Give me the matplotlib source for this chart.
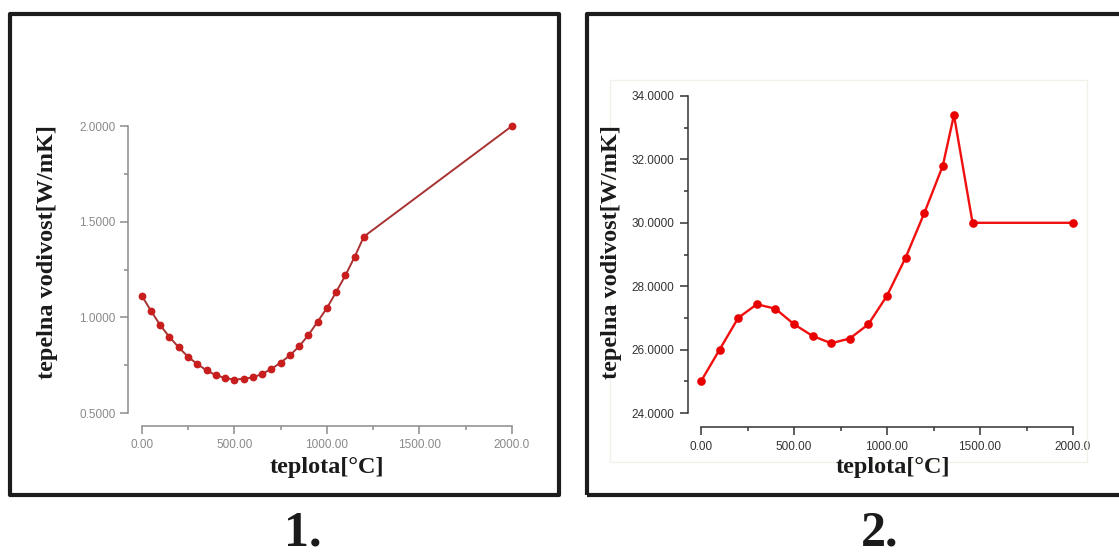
import matplotlib
matplotlib.use("Agg")
import matplotlib.pyplot as plt
from matplotlib.patches import Rectangle

# Thermal conductivity vs. temperature, material 1
temp_1 = [0, 50, 100, 150, 200, 250, 300, 350, 400, 450, 500, 550, 600,
          650, 700, 750, 800, 850, 900, 950, 1000, 1050, 1100, 1150, 1200, 2000]
cond_1 = [1.114, 1.034, 0.959, 0.897, 0.843, 0.794, 0.756, 0.723, 0.698,
          0.683, 0.674, 0.679, 0.686, 0.704, 0.730, 0.763, 0.801, 0.848,
          0.907, 0.977, 1.048, 1.132, 1.219, 1.316, 1.422, 2.0]

# Thermal conductivity vs. temperature, material 2
temp_2 = [0, 100, 200, 300, 400, 500, 600, 700, 800, 900, 1000, 1100, 1200,
          1300, 1360, 1460, 2000]
cond_2 = [25.0, 26.0, 27.0, 27.43, 27.29, 26.8, 26.43, 26.2, 26.35, 26.8,
          27.7, 28.9, 30.3, 31.8, 33.4, 30.0, 30.0]

x_ticks = [0, 500, 1000, 1500, 2000]
x_tick_labels = ["0.00", "500.00", "1000.00", "1500.00", "2000.0"]
y_ticks_1 = [0.5, 1.0, 1.5, 2.0]
y_tick_labels_1 = ["0.5000", "1.0000", "1.5000", "2.0000"]
y_ticks_2 = [24, 26, 28, 30, 32, 34]
y_tick_labels_2 = ["24.0000", "26.0000", "28.0000", "30.0000", "32.0000", "34.0000"]

y_label = "tepelna vodivost[W/mK]"
x_label = "teplota[°C]"
panel_titles = ["1.", "2."]

W, H = 1119, 558
fig = plt.figure(figsize=(W / 100, H / 100), dpi=100)
fig.patch.set_facecolor("white")


def fx(px):
    return px / W


def fy(py):
    return 1 - py / H


def style_axes(ax, axis_color, label_color, x_off, y_off):
    for side in ("top", "right"):
        ax.spines[side].set_visible(False)
    ax.spines["left"].set_position(("outward", x_off))
    ax.spines["bottom"].set_position(("outward", y_off))
    for side in ("left", "bottom"):
        ax.spines[side].set_color(axis_color)
        ax.spines[side].set_linewidth(1.1)
    ax.tick_params(which="major", length=6, width=1.1, color=axis_color,
                   labelcolor=label_color, labelsize=8.5, pad=3)
    ax.tick_params(which="minor", length=3, width=1.1, color=axis_color)
    for lab in ax.get_xticklabels() + ax.get_yticklabels():
        lab.set_family("Liberation Sans")
    ax.set_facecolor("none")


# Panel frames
for x0, x1 in ((10, 559), (587, 1130)):
    fig.patches.append(Rectangle((fx(x0), fy(495)), fx(x1 - x0), (495 - 14) / H,
                                 transform=fig.transFigure, fill=False,
                                 edgecolor="#1c1c1c", linewidth=3.0,
                                 joinstyle="round", zorder=0))
# faint plot-area outline on the second panel
fig.patches.append(Rectangle((fx(610), fy(462)), fx(1087 - 610), (462 - 80) / H,
                             transform=fig.transFigure, fill=False,
                             edgecolor="#f1f1ea", linewidth=1.0, zorder=0))

# Left panel
ax1 = fig.add_axes([fx(141.7), fy(413), fx(512 - 141.7), (413 - 126) / H])
ax1.plot(temp_1, cond_1, color="#a83232", linewidth=1.4, marker="o",
         markersize=4.6, markerfacecolor="#c81e1e", markeredgecolor="#c81e1e",
         clip_on=False, zorder=3)
ax1.set_xlim(0, 2000)
ax1.set_ylim(0.5, 2.0)
ax1.set_xticks(x_ticks)
ax1.set_xticklabels(x_tick_labels)
ax1.set_xticks([250, 750, 1250, 1750], minor=True)
ax1.set_yticks(y_ticks_1)
ax1.set_yticklabels(y_tick_labels_1)
ax1.set_yticks([0.75, 1.25, 1.75], minor=True)
style_axes(ax1, "#8c8c8c", "#8a8a8a", 9.9, 9.4)

# Right panel
ax2 = fig.add_axes([fx(701), fy(413), fx(1073 - 701), (413 - 96) / H])
ax2.plot(temp_2, cond_2, color="#f01010", linewidth=1.7, marker="o",
         markersize=5.2, markerfacecolor="#e80000", markeredgecolor="#e80000",
         clip_on=False, zorder=3)
ax2.set_xlim(0, 2000)
ax2.set_ylim(24, 34)
ax2.set_xticks(x_ticks)
ax2.set_xticklabels(x_tick_labels)
ax2.set_xticks([250, 750, 1250, 1750], minor=True)
ax2.set_yticks(y_ticks_2)
ax2.set_yticklabels(y_tick_labels_2)
ax2.set_yticks([25, 27, 29, 31, 33], minor=True)
style_axes(ax2, "#333333", "#333333", 9.4, 10.1)
ax2.tick_params(which="major", pad=4)

# Axis titles and panel numbers
serif = dict(family="Liberation Serif", fontweight="bold", color="#1a1a1a")
for cx_y, cx_x in ((48, 327), (612, 893)):
    fig.text(fx(cx_y), fy(252), y_label, rotation=90, ha="center", va="center",
             fontsize=17.5, **serif)
    fig.text(fx(cx_x), fy(467), x_label, ha="center", va="center",
             fontsize=17.5, **serif)
for cx, title in zip((303, 880), panel_titles):
    fig.text(fx(cx), fy(546), title, ha="center", va="baseline",
             fontsize=36, **serif)

fig.savefig("out.png", dpi=100, facecolor="white")
